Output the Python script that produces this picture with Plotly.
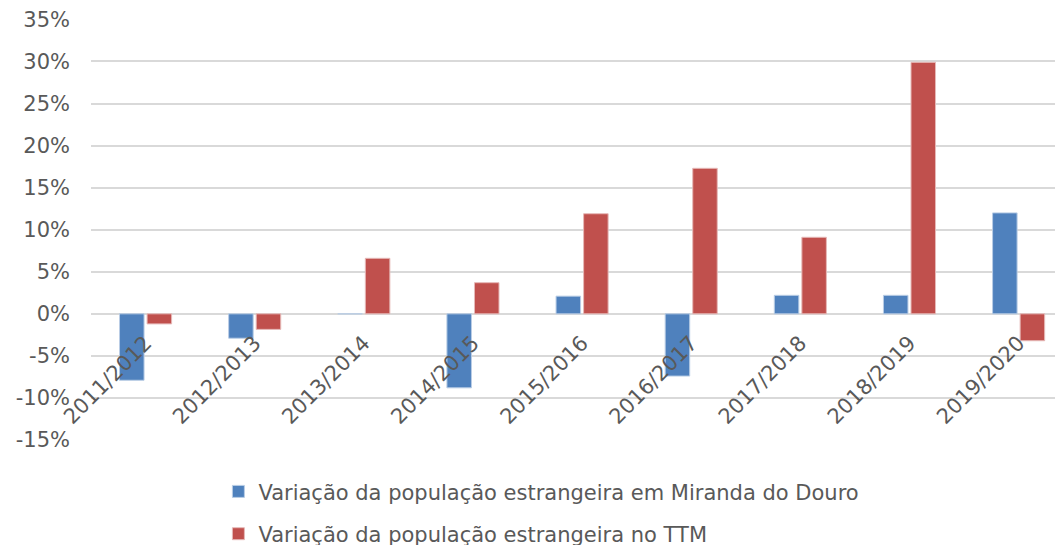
import plotly.graph_objects as go

categories = ["2011/2012", "2012/2013", "2013/2014", "2014/2015", "2015/2016",
              "2016/2017", "2017/2018", "2018/2019", "2019/2020"]
miranda = [-7.9, -2.9, 0.0, -8.8, 2.1, -7.4, 2.2, 2.2, 12.0]
ttm = [-1.2, -1.85, 6.6, 3.7, 11.9, 17.3, 9.1, 29.9, -3.2]
y_ticks = [-15, -10, -5, 0, 5, 10, 15, 20, 25, 30, 35]
y_tick_labels = [f"{v}%" for v in y_ticks]

name_a = "Variação da população estrangeira em Miranda do Douro"
name_b = "Variação da população estrangeira no TTM"

FONT = "DejaVu Sans"
GREY = "#595959"
FS = 21

fig = go.Figure()
fig.add_trace(go.Bar(x=categories, y=miranda, name=name_a, legendgroup="a",
                     marker=dict(color="#4F81BD", line=dict(color="#B9CDE5", width=1))))
fig.add_trace(go.Bar(x=categories, y=ttm, name=name_b, legendgroup="b",
                     marker=dict(color="#C0504D", line=dict(color="#E6B9B8", width=1))))

fig.update_layout(
    width=1063, height=545,
    margin=dict(l=83, r=0, t=11, b=113),
    paper_bgcolor="white", plot_bgcolor="white",
    barmode="group", bargap=0.495, bargroupgap=0.11,
    font=dict(family=FONT, size=FS, color=GREY),
    showlegend=True,
    legend=dict(orientation="v", x=0.13, xanchor="left",
                y=0.15, yref="container", yanchor="top",
                font=dict(family=FONT, size=FS, color=GREY),
                tracegroupgap=12, bgcolor="rgba(0,0,0,0)"),
    xaxis=dict(range=[-0.5, 8.48], tickangle=-45, showgrid=False, showline=False,
               zeroline=False, ticks="", anchor="free", position=0.3,
               ticklabelstandoff=12,
               automargin=False, tickfont=dict(family=FONT, size=FS, color=GREY)),
    yaxis=dict(range=[-15, 35.05], tickvals=y_ticks, ticktext=y_tick_labels,
               showgrid=True, gridcolor="#D9D9D9", gridwidth=1.5,
               zeroline=True, zerolinecolor="#D9D9D9", zerolinewidth=1.5,
               showline=False, ticks="", ticklabelstandoff=20, automargin=False,
               ticklabeloverflow="allow",
               tickfont=dict(family=FONT, size=FS, color=GREY)),
)

fig.write_html("out.html")
